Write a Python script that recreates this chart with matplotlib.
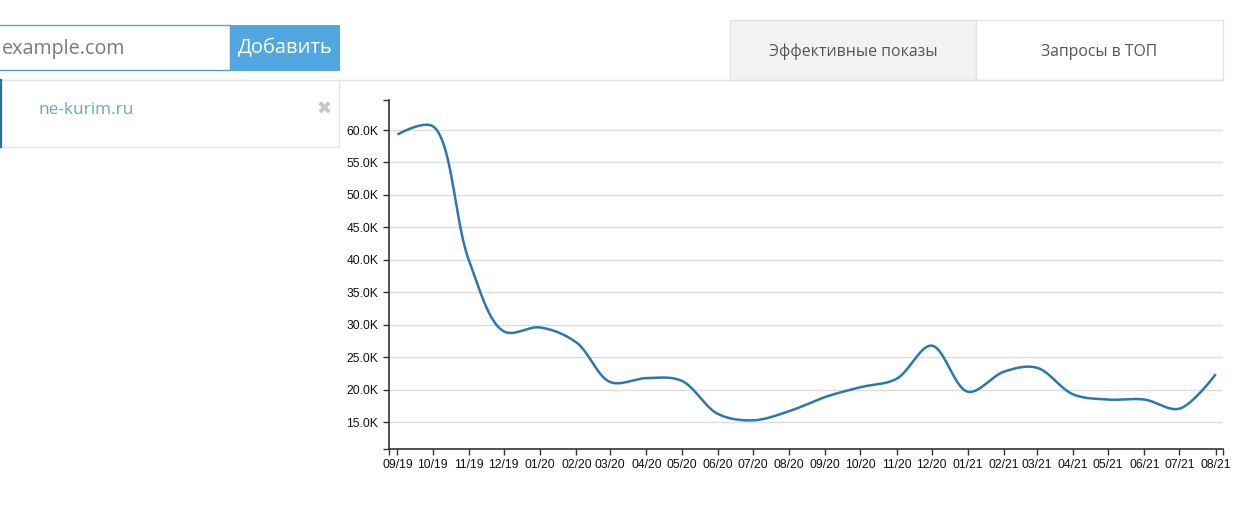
import numpy as np
import matplotlib
matplotlib.use("Agg")
import matplotlib.pyplot as plt
import matplotlib.dates as mdates
from matplotlib.patches import Rectangle
from matplotlib.lines import Line2D
from matplotlib.ticker import FuncFormatter, FixedLocator
import datetime as dt

# ---------------- data ----------------
months = ["09/19", "10/19", "11/19", "12/19", "01/20", "02/20", "03/20", "04/20",
          "05/20", "06/20", "07/20", "08/20", "09/20", "10/20", "11/20", "12/20",
          "01/21", "02/21", "03/21", "04/21", "05/21", "06/21", "07/21", "08/21"]
impressions = [59300, 60600, 40000, 29000, 29600, 27300, 21200, 21800,
               21400, 16300, 15300, 16700, 18900, 20400, 21700, 26800,
               19700, 22800, 23400, 19300, 18500, 18500, 17100, 22400]
y_ticks = [15000, 20000, 25000, 30000, 35000, 40000, 45000, 50000, 55000, 60000]
domain_name = "ne-kurim.ru"
input_placeholder = "example.com"
button_label = "Добавить"
tab_labels = ["Эффективные показы", "Запросы в ТОП"]

# ---------------- figure ----------------
W, H = 1248, 513
fig = plt.figure(figsize=(W / 100, H / 100), dpi=100)
fig.patch.set_facecolor("white")


def fx(x):
    return x / W


def fy(y):
    return 1 - y / H


def rect(x0, y0, x1, y1, fc, ec="none", lw=1.0, z=1):
    r = Rectangle((fx(x0), fy(y1)), (x1 - x0) / W, (y1 - y0) / H,
                  transform=fig.transFigure, facecolor=fc, edgecolor=ec,
                  linewidth=lw, zorder=z)
    fig.add_artist(r)


def hline(x0, x1, y, color, lw=1.0, z=2):
    fig.add_artist(Line2D([fx(x0), fx(x1)], [fy(y), fy(y)], transform=fig.transFigure,
                          color=color, linewidth=lw, zorder=z))


def vline(x, y0, y1, color, lw=1.0, z=2):
    fig.add_artist(Line2D([fx(x), fx(x)], [fy(y0), fy(y1)], transform=fig.transFigure,
                          color=color, linewidth=lw, zorder=z))


# ---- UI: input + button ----
rect(-5, 25.5, 230, 70, "white", "#5aa0cf", lw=1.0)
fig.text(fx(2), fy(49), input_placeholder, family="Open Sans", fontsize=14.2,
         color="#7a7a7a", ha="left", va="center")
rect(230, 25, 340, 71, "#51a7e0")
fig.text(fx(285), fy(48), button_label, family="Open Sans", fontsize=14.5,
         color="white", ha="center", va="center")

# ---- separator line & domain box ----
hline(0, 1223, 79.5, "#e3e3e3")
vline(338.5, 79.5, 147, "#e3e3e3")
hline(0, 338.5, 147.3, "#e3e3e3")
vline(0.8, 80, 147, "#2f6f9f", lw=1.6, z=3)
fig.text(fx(38), fy(110.5), domain_name, family="Open Sans", fontsize=12.4,
         color="#69aab6", ha="left", va="center")
fig.text(fx(324.5), fy(110), "\u2716", family="DejaVu Sans", fontsize=13,
         color="#c6c6c6", ha="center", va="center")

# ---- tabs ----
rect(729.5, 19.5, 976, 79.5, "#f2f2f2", "#e3e3e3", lw=1.0)
rect(976, 19.5, 1223, 79.5, "white", "#e3e3e3", lw=1.0)
fig.text(fx(853), fy(52), tab_labels[0], family="Open Sans", fontsize=11.4,
         color="#555555", ha="center", va="center")
fig.text(fx(1099.5), fy(52), tab_labels[1], family="Open Sans", fontsize=11.3,
         color="#555555", ha="center", va="center")

# ---------------- chart ----------------
left, right, top, bottom = 389.3, 1222.7, 100, 449.3
ax = fig.add_axes([fx(left), fy(bottom), (right - left) / W, (bottom - top) / H])
ax.set_facecolor("none")

x0 = mdates.date2num(dt.date(2019, 8, 25))
x1 = mdates.date2num(dt.date(2021, 8, 7))
ylo, yhi = 10840, 64620

dates = [dt.date(2000 + int(m[3:]), int(m[:2]), 1) for m in months]
xnum = mdates.date2num(dates)
yv = np.array(impressions, dtype=float)

# centripetal Catmull-Rom smoothing (alpha 0.5), computed in screen-pixel space
sx = (right - left) / (x1 - x0)
sy = (bottom - top) / (yhi - ylo)
P = np.column_stack([xnum * sx, yv * sy])
alpha = 0.5
t = np.linspace(0, 1, 50)
curve = []
n_pts = len(P)
for i in range(n_pts - 1):
    p0 = P[i - 1] if i > 0 else P[i]
    p1 = P[i]
    p2 = P[i + 1]
    p3 = P[i + 2] if i + 2 < n_pts else P[i + 1]
    l01 = np.linalg.norm(p1 - p0)
    l12 = np.linalg.norm(p2 - p1)
    l23 = np.linalg.norm(p3 - p2)
    l01a, l12a, l23a = l01 ** alpha, l12 ** alpha, l23 ** alpha
    l01_2a, l12_2a, l23_2a = l01 ** (2 * alpha), l12 ** (2 * alpha), l23 ** (2 * alpha)
    c1 = p1.copy()
    c2 = p2.copy()
    if l01a > 1e-9:
        a = 2 * l01_2a + 3 * l01a * l12a + l12_2a
        n = 3 * l01a * (l01a + l12a)
        c1 = (p1 * a - p0 * l12_2a + p2 * l01_2a) / n
    if l23a > 1e-9:
        b = 2 * l23_2a + 3 * l23a * l12a + l12_2a
        m = 3 * l23a * (l23a + l12a)
        c2 = (p2 * b + p1 * l23_2a - p3 * l12_2a) / m
    seg = ((1 - t) ** 3)[:, None] * p1 + (3 * (1 - t) ** 2 * t)[:, None] * c1 \
        + (3 * (1 - t) * t ** 2)[:, None] * c2 + (t ** 3)[:, None] * p2
    curve.append(seg)
curve = np.vstack(curve)
ax.plot(curve[:, 0] / sx, curve[:, 1] / sy, color="#2a78b3", linewidth=1.8,
        solid_capstyle="butt", zorder=3)

ax.set_xlim(x0, x1)
ax.set_ylim(ylo, yhi)

ax.set_xticks(xnum)
ax.set_xticklabels(months)
ax.xaxis.set_minor_locator(FixedLocator([x0, x1]))
ax.set_yticks(y_ticks)
ax.yaxis.set_major_formatter(FuncFormatter(lambda v, p: f"{v / 1000:.1f}K"))
ax.yaxis.set_minor_locator(FixedLocator([ylo, yhi]))

ax.grid(axis="y", color="#dcdcdc", linewidth=1.0)
ax.set_axisbelow(True)
for s in ["top", "right"]:
    ax.spines[s].set_visible(False)
for s in ["left", "bottom"]:
    ax.spines[s].set_color("#333333")
    ax.spines[s].set_linewidth(1.2)

ax.tick_params(axis="both", which="both", length=4.3, width=1.0, color="#333333",
               labelsize=8.7, labelcolor="#111111")
ax.tick_params(axis="y", which="major", pad=3.5)
ax.tick_params(axis="x", which="major", pad=2.5)
for lbl in ax.get_xticklabels() + ax.get_yticklabels():
    lbl.set_family("Liberation Sans")

fig.savefig("out.png", dpi=100, facecolor="white")
